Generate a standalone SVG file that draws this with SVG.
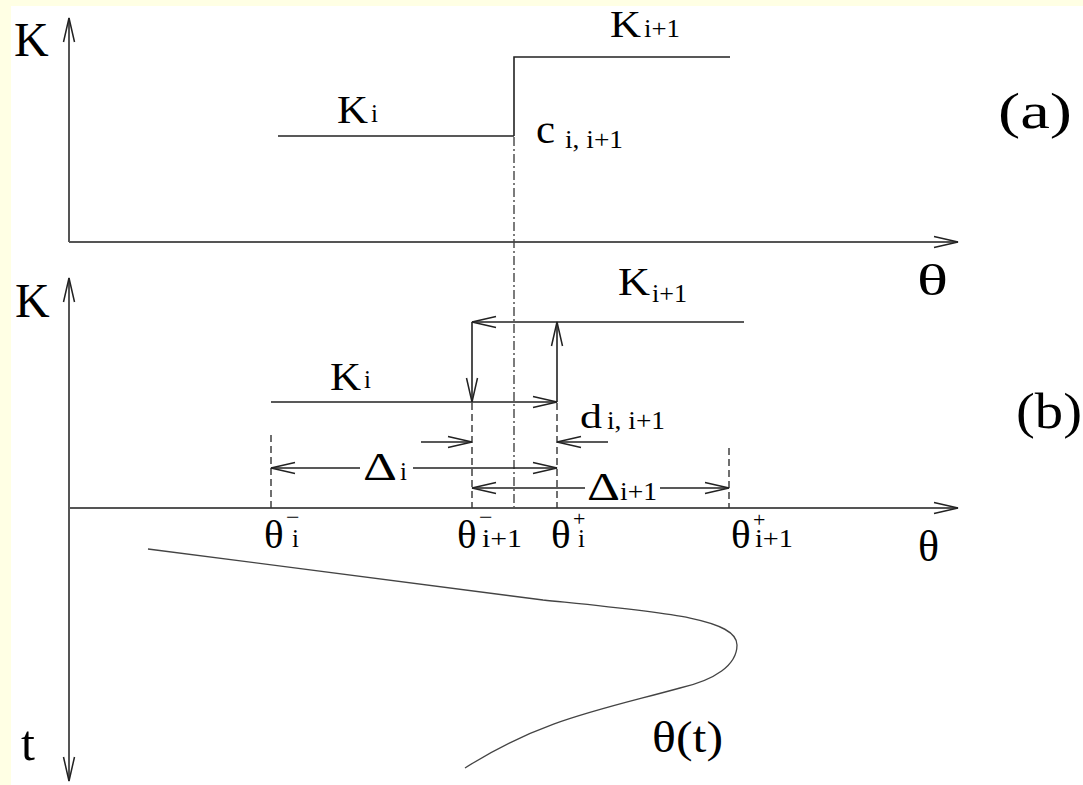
<svg xmlns="http://www.w3.org/2000/svg" width="1083" height="785" viewBox="0 0 1083 785">
<defs>
<marker id="arr" markerUnits="userSpaceOnUse" markerWidth="30" markerHeight="16" viewBox="-26 -8 28 16" refX="0" refY="0" orient="auto-start-reverse">
<path d="M-24,-5.5 L0,0 L-24,5.5" fill="none" stroke="#222" stroke-width="1.5"/>
</marker>
<style>
.ax{stroke:#555;stroke-width:2;fill:none}
.ln{stroke:#222;stroke-width:1.6;fill:none}
.ds{stroke:#333;stroke-width:1.4;fill:none;stroke-dasharray:7 4}
.dd{stroke:#444;stroke-width:1.4;fill:none;stroke-dasharray:9 3 2 3}
.cv{stroke:#444;stroke-width:1.3;fill:none}
text{font-family:"Liberation Serif","Times New Roman",serif;fill:#000}
.s{font-size:25px}
</style>
</defs>
<rect x="0" y="0" width="1083" height="785" fill="#FFFFE4"/>
<rect x="11" y="6" width="1072" height="779" fill="#FFFFFF"/>

<g id="connectors">
<line class="ax" x1="69" y1="242" x2="69" y2="18" marker-end="url(#arr)"/>
<line class="ax" x1="69" y1="242" x2="958" y2="242" marker-end="url(#arr)"/>
<line class="ln" x1="278" y1="136" x2="514" y2="136"/>
<polyline class="ln" points="514,136 514,57 730,57"/>
<line class="dd" x1="514" y1="137" x2="514" y2="508"/>
<line class="ax" x1="69" y1="781" x2="69" y2="278" marker-start="url(#arr)" marker-end="url(#arr)"/>
<line class="ax" x1="69" y1="508" x2="958" y2="508" marker-end="url(#arr)"/>
<line class="ln" x1="271" y1="402" x2="557" y2="402" marker-end="url(#arr)"/>
<line class="ln" x1="744" y1="322" x2="472" y2="322" marker-end="url(#arr)"/>
<line class="ln" x1="472" y1="322" x2="472" y2="402" marker-end="url(#arr)"/>
<line class="ln" x1="557" y1="402" x2="557" y2="322" marker-end="url(#arr)"/>
<line class="ds" x1="271" y1="435" x2="271" y2="508"/>
<line class="ds" x1="472" y1="403" x2="472" y2="508"/>
<line class="ds" x1="557" y1="403" x2="557" y2="508"/>
<line class="ds" x1="729" y1="448" x2="729" y2="508"/>
<line class="ln" x1="421" y1="442" x2="472" y2="442" marker-end="url(#arr)"/>
<line class="ln" x1="608" y1="442" x2="557" y2="442" marker-end="url(#arr)"/>
<line class="ln" x1="360" y1="468" x2="271" y2="468" marker-end="url(#arr)"/>
<line class="ln" x1="413" y1="468" x2="557" y2="468" marker-end="url(#arr)"/>
<line class="ln" x1="585" y1="488" x2="472" y2="488" marker-end="url(#arr)"/>
<line class="ln" x1="660" y1="488" x2="729" y2="488" marker-end="url(#arr)"/>
<path class="cv" d="M148,549 L543,600 C660,612 737,618 737,645 C737,665 715,680 680,688 C600,710 540,720 465,768"/>
</g>

<g id="labels-a">
<text x="14" y="56" font-size="48">K</text>
<text x="337" y="123" font-size="39" textLength="31" lengthAdjust="spacingAndGlyphs">K</text>
<text x="371" y="122" class="s">i</text>
<text x="610" y="37" font-size="37" textLength="31" lengthAdjust="spacingAndGlyphs">K</text>
<text x="644" y="37" class="s" textLength="36" lengthAdjust="spacingAndGlyphs">i+1</text>
<text x="536" y="143" font-size="40" textLength="19" lengthAdjust="spacingAndGlyphs">c</text>
<text x="565" y="148" class="s" textLength="58" lengthAdjust="spacingAndGlyphs">i, i+1</text>
<text x="998" y="128" font-size="50" textLength="74" lengthAdjust="spacingAndGlyphs">(a)</text>
<text x="917" y="295" font-size="44" textLength="31" lengthAdjust="spacingAndGlyphs">θ</text>
</g>

<g id="labels-b">
<text x="15" y="317" font-size="48">K</text>
<text x="21" y="760" font-size="50">t</text>
<text x="618" y="295" font-size="40" textLength="32" lengthAdjust="spacingAndGlyphs">K</text>
<text x="652" y="302" class="s" textLength="35" lengthAdjust="spacingAndGlyphs">i+1</text>
<text x="330" y="390" font-size="40" textLength="31" lengthAdjust="spacingAndGlyphs">K</text>
<text x="364" y="388" class="s">i</text>
<text x="580" y="428" font-size="34" textLength="22" lengthAdjust="spacingAndGlyphs">d</text>
<text x="607" y="429" class="s" textLength="58" lengthAdjust="spacingAndGlyphs">i, i+1</text>
<text x="363" y="480" font-size="41" textLength="34" lengthAdjust="spacingAndGlyphs">Δ</text>
<text x="400" y="480" class="s">i</text>
<text x="587" y="500" font-size="41" textLength="33" lengthAdjust="spacingAndGlyphs">Δ</text>
<text x="620" y="500" class="s" textLength="37" lengthAdjust="spacingAndGlyphs">i+1</text>
<text x="264" y="548" font-size="41">θ</text>
<text x="286" y="525" font-size="24">−</text>
<text x="292" y="547" class="s">i</text>
<text x="457" y="548" font-size="41">θ</text>
<text x="479" y="525" font-size="24">−</text>
<text x="482" y="547" class="s" textLength="40" lengthAdjust="spacingAndGlyphs">i+1</text>
<text x="551" y="548" font-size="41">θ</text>
<text x="573" y="526" font-size="22">+</text>
<text x="578" y="547" class="s">i</text>
<text x="731" y="548" font-size="41">θ</text>
<text x="753" y="527" font-size="22">+</text>
<text x="755" y="547" class="s" textLength="38" lengthAdjust="spacingAndGlyphs">i+1</text>
<text x="918" y="561" font-size="44">θ</text>
<text x="1016" y="428" font-size="50" textLength="66" lengthAdjust="spacingAndGlyphs">(b)</text>
<text x="652" y="752" font-size="44" textLength="71" lengthAdjust="spacingAndGlyphs">θ(t)</text>
</g>
</svg>
